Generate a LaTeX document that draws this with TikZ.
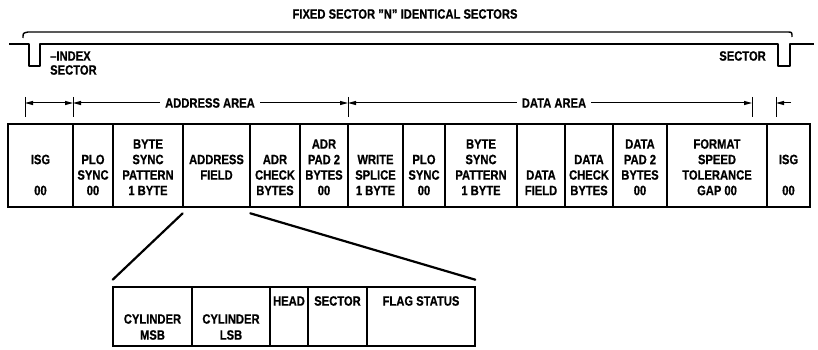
\documentclass[tikz,border=0pt]{standalone}
\usepackage{fontspec}
\setmainfont{Liberation Sans}[FakeStretch=0.83, BoldFeatures={FakeBold=0.6}]
\usetikzlibrary{arrows.meta,calc}
\tikzset{
  cellbox/.style={draw, line width=2.6pt, inner sep=0pt, rectangle},
  lbl/.style={font=\fontsize{13.5}{15}\selectfont\bfseries, inner sep=0pt},
  dimline/.style={line width=1pt},
  dimarrow/.style={line width=1pt, -{Triangle[length=8pt,width=4pt]}},
  wave/.style={line width=2.8pt, line join=round},
  brace/.style={line width=1.4pt},
  zoomline/.style={line width=2.2pt, line cap=round}
}
\newcommand\tx[4]{\node[lbl] (#1) at (#2,#3) {#4};}
\begin{document}
\begin{tikzpicture}[x=1pt,y=-1pt]
\useasboundingbox[fill=white] (0,0) rectangle (818,350);

% title and brace
\node[lbl] (title) at (405,14) {FIXED SECTOR \char34 N\char34\ IDENTICAL SECTORS};
\coordinate (bl) at (23,38);
\coordinate (br) at (792,37);
\draw[brace] (bl) .. controls (23,33) .. (28,32) -- (787,32) .. controls (792,32) .. (br);

% waveform
\coordinate (w0) at (9,44);
\coordinate (w9) at (814,44);
\draw[wave] (w0) -- (29,44) -- (29,66) -- (40,66) -- (40,44) -- (778,44) -- (778,66) -- (790,66) -- (790,44) -- (w9);
\node[lbl, anchor=west] (idx) at (50,56) {\textendash INDEX};
\node[lbl, anchor=west] (idxs) at (50,70) {SECTOR};
\node[lbl, anchor=east] (sect) at (766,56) {SECTOR};

% dimension row
\coordinate (k1) at (25,103);
\coordinate (k2) at (73,103);
\coordinate (k3) at (348,103);
\coordinate (k4) at (752,103);
\coordinate (k5) at (776,103);
\coordinate (k6) at (791,103);
\foreach \k in {k1,k2,k3,k4,k5}{
  \draw[dimline] ([yshift=6pt]\k) -- ([yshift=-14pt]\k);
}
\node[lbl, inner xsep=5pt] (aa) at (210,103) {ADDRESS AREA};
\node[lbl, inner xsep=5pt] (da) at (554,103) {DATA AREA};
\draw[dimline, {Triangle[length=8pt,width=4pt]}-{Triangle[length=8pt,width=4pt]}] (k1) -- (k2);
\draw[dimarrow] (aa.west) -- (k2);
\draw[dimarrow] (aa.east) -- (k3);
\draw[dimarrow] (da.west) -- (k3);
\draw[dimarrow] (da.east) -- (k4);
\draw[dimarrow] (k6) -- (k5);

% main table
\node[cellbox, minimum width=65pt, minimum height=83pt] (c1) at (40.5,165.5) {};
\node[cellbox, minimum width=40pt, minimum height=83pt] (c2) at (93,165.5) {};
\node[cellbox, minimum width=70pt, minimum height=83pt] (c3) at (148,165.5) {};
\node[cellbox, minimum width=67pt, minimum height=83pt] (c4) at (216.5,165.5) {};
\node[cellbox, minimum width=50pt, minimum height=83pt] (c5) at (275,165.5) {};
\node[cellbox, minimum width=48pt, minimum height=83pt] (c6) at (324,165.5) {};
\node[cellbox, minimum width=55pt, minimum height=83pt] (c7) at (375.5,165.5) {};
\node[cellbox, minimum width=42pt, minimum height=83pt] (c8) at (424,165.5) {};
\node[cellbox, minimum width=72pt, minimum height=83pt] (c9) at (481,165.5) {};
\node[cellbox, minimum width=48pt, minimum height=83pt] (c10) at (541,165.5) {};
\node[cellbox, minimum width=48pt, minimum height=83pt] (c11) at (589,165.5) {};
\node[cellbox, minimum width=54pt, minimum height=83pt] (c12) at (640,165.5) {};
\node[cellbox, minimum width=100pt, minimum height=83pt] (c13) at (717,165.5) {};
\node[cellbox, minimum width=43pt, minimum height=83pt] (c14) at (788.5,165.5) {};

\tx{t1a}{40.5}{159.5}{ISG}
\tx{t1b}{40.5}{190.5}{00}
\tx{t2a}{93}{159.5}{PLO}
\tx{t2b}{93}{175}{SYNC}
\tx{t2c}{93}{190.5}{00}
\tx{t3a}{148}{144}{BYTE}
\tx{t3b}{148}{159.5}{SYNC}
\tx{t3c}{148}{175}{PATTERN}
\tx{t3d}{148}{190.5}{1 BYTE}
\tx{t4a}{216.5}{159.5}{ADDRESS}
\tx{t4b}{216.5}{175}{FIELD}
\tx{t5a}{275}{159.5}{ADR}
\tx{t5b}{275}{175}{CHECK}
\tx{t5c}{275}{190.5}{BYTES}
\tx{t6a}{324}{144}{ADR}
\tx{t6b}{324}{159.5}{PAD 2}
\tx{t6c}{324}{175}{BYTES}
\tx{t6d}{324}{190.5}{00}
\tx{t7a}{375.5}{159.5}{WRITE}
\tx{t7b}{375.5}{175}{SPLICE}
\tx{t7c}{375.5}{190.5}{1 BYTE}
\tx{t8a}{424}{159.5}{PLO}
\tx{t8b}{424}{175}{SYNC}
\tx{t8c}{424}{190.5}{00}
\tx{t9a}{481}{144}{BYTE}
\tx{t9b}{481}{159.5}{SYNC}
\tx{t9c}{481}{175}{PATTERN}
\tx{t9d}{481}{190.5}{1 BYTE}
\tx{t10a}{541}{175}{DATA}
\tx{t10b}{541}{190.5}{FIELD}
\tx{t11a}{589}{159.5}{DATA}
\tx{t11b}{589}{175}{CHECK}
\tx{t11c}{589}{190.5}{BYTES}
\tx{t12a}{640}{144}{DATA}
\tx{t12b}{640}{159.5}{PAD 2}
\tx{t12c}{640}{175}{BYTES}
\tx{t12d}{640}{190.5}{00}
\tx{t13a}{717}{144}{FORMAT}
\tx{t13b}{717}{159.5}{SPEED}
\tx{t13c}{717}{175}{TOLERANCE}
\tx{t13d}{717}{190.5}{GAP 00}
\tx{t14a}{788.5}{159.5}{ISG}
\tx{t14b}{788.5}{190.5}{00}

% address field detail
\node[cellbox, minimum width=79pt, minimum height=59pt] (b1) at (152.5,316.5) {};
\node[cellbox, minimum width=78pt, minimum height=59pt] (b2) at (231,316.5) {};
\node[cellbox, minimum width=38pt, minimum height=59pt] (b3) at (289,316.5) {};
\node[cellbox, minimum width=59pt, minimum height=59pt] (b4) at (337.5,316.5) {};
\node[cellbox, minimum width=108pt, minimum height=59pt] (b5) at (421,316.5) {};

\tx{u1a}{152.5}{319}{CYLINDER}
\tx{u1b}{152.5}{335}{MSB}
\tx{u2a}{231}{319}{CYLINDER}
\tx{u2b}{231}{335}{LSB}
\tx{u3a}{289}{301}{HEAD}
\tx{u4a}{337.5}{301}{SECTOR}
\tx{u5a}{421}{301}{FLAG STATUS}

\draw[zoomline] ([xshift=1pt,yshift=-5pt]c4.south west) -- ([xshift=1pt,yshift=6pt]b1.north west);
\draw[zoomline] ([xshift=-1pt,yshift=-5pt]c4.south east) -- ([xshift=-1pt,yshift=6pt]b5.north east);
\end{tikzpicture}
\end{document}
